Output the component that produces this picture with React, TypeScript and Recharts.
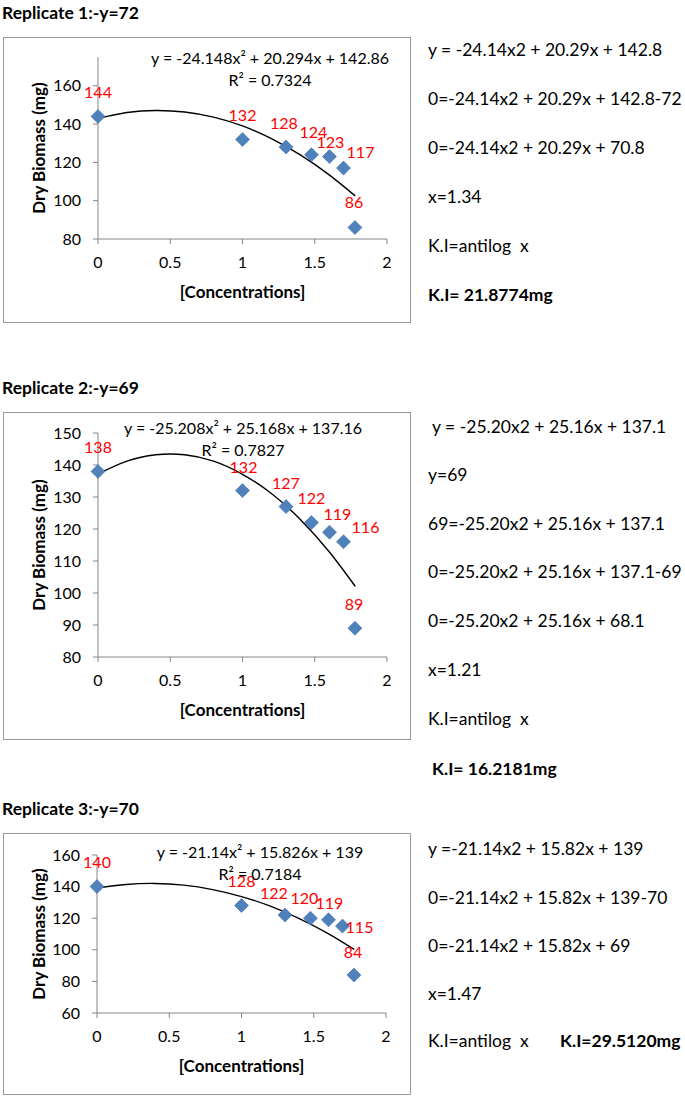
import { ComposedChart, Scatter, Line, XAxis, YAxis } from 'recharts'

// log10 of the concentrations on the x axis
const conc = [0, 1, 1.301, 1.477, 1.602, 1.699, 1.778]
const rep1 = [144, 132, 128, 124, 123, 117, 86]
const rep2 = [138, 132, 127, 122, 119, 116, 89]
const rep3 = [140, 128, 122, 120, 119, 115, 84]

// polynomial trendline
const trendX = [0, 0.2, 0.4, 0.6, 0.8, 1, 1.2, 1.4, 1.6, 1.78]
const trend1 = [142.9, 146.0, 147.1, 146.3, 143.6, 139.0, 132.4, 123.9, 113.5, 102.5]
const trend2 = [137.2, 141.2, 143.2, 143.2, 141.2, 137.1, 131.1, 123.0, 112.9, 102.1]
const trend3 = [139.0, 141.3, 142.0, 140.9, 138.1, 133.7, 127.6, 119.7, 110.2, 100.2]

const xTicks = [0, 0.5, 1, 1.5, 2]
const yTicks1 = [80, 100, 120, 140, 160]
const yTicks2 = [80, 90, 100, 110, 120, 130, 140, 150]
const yTicks3 = [60, 80, 100, 120, 140, 160]

const eq1 = ['y = -24.148x² + 20.294x + 142.86', 'R² = 0.7324']
const eq2 = ['y = -25.208x² + 25.168x + 137.16', 'R² = 0.7827']
const eq3 = ['y = -21.14x² + 15.826x + 139', 'R² = 0.7184']

const notes1 = [
  'y = -24.14x2 + 20.29x + 142.8',
  '0=-24.14x2 + 20.29x + 142.8-72',
  '0=-24.14x2 + 20.29x + 70.8',
  'x=1.34',
  'K.I=antilog  x',
]
const notes2 = [
  ' y = -25.20x2 + 25.16x + 137.1',
  'y=69',
  '69=-25.20x2 + 25.16x + 137.1',
  '0=-25.20x2 + 25.16x + 137.1-69',
  '0=-25.20x2 + 25.16x + 68.1',
  'x=1.21',
  'K.I=antilog  x',
]
const notes3 = [
  'y =-21.14x2 + 15.82x + 139',
  '0=-21.14x2 + 15.82x + 139-70',
  '0=-21.14x2 + 15.82x + 69',
  'x=1.47',
  'K.I=antilog  x',
]

const FONT = 'Lato, "Open Sans", sans-serif'
const AXIS = '#868686'

// nudges for the red value labels (dx, dy from the marker)
const shift1 = [[0, -25], [0, -25], [-2, -25], [2, -23], [1, -15], [17, -17], [-1, -26]]
const shift2 = [[0, -25], [1, -24], [0, -24], [0, -25], [8, -19], [22, -15], [-1, -25]]
const shift3 = [[0, -25], [0, -25], [-11, -23], [-6, -21], [1, -17], [17, 0], [-1, -24]]

const Diamond = (p: any) => {
  const { cx, cy } = p
  if (cx == null || cy == null) return null
  const r = 7
  return (
    <polygon
      points={`${cx},${cy - r} ${cx + r},${cy} ${cx},${cy + r} ${cx - r},${cy}`}
      fill="#4F81BD"
      stroke="#3E6DA6"
      strokeWidth={0.6}
    />
  )
}

function Panel(props: {
  values: number[]
  trend: number[]
  yTicks: number[]
  yDomain: [number, number]
  shifts: number[][]
  eq: string[]
  eqX: number
  eqY: number
  title: string
  titleY: number
  box: { left: number; top: number; w: number; h: number }
  plot: { x0: number; x1: number; y0: number; y1: number }
}) {
  const { box, plot } = props
  const pts = conc.map((x, i) => ({ x, y: props.values[i], i }))
  const line = trendX.map((x, i) => ({ x, y: props.trend[i] }))
  const xMid = (plot.x0 + plot.x1) / 2
  const yMid = (plot.y0 + plot.y1) / 2

  const ValueLabel = (p: any) => {
    const { cx, cy, payload } = p
    if (cx == null) return null
    const [dx, dy] = props.shifts[payload.i]
    return (
      <text x={cx + dx} y={cy + dy} textAnchor="middle" dominantBaseline="central"
        fill="#FF0000" fontSize={16} fontFamily={FONT}>
        {payload.y}
      </text>
    )
  }

  return (
    <>
      <div style={{ position: 'absolute', left: 2, top: props.titleY, transform: 'translateY(-50%)',
        fontWeight: 700, fontSize: 17.5, whiteSpace: 'nowrap' }}>
        {props.title}
      </div>
      <div style={{ position: 'absolute', left: box.left, top: box.top, width: box.w, height: box.h,
        border: '1px solid #9a9a9a', boxSizing: 'border-box' }} />
      <div style={{ position: 'absolute', left: box.left, top: box.top }}>
        <ComposedChart
          width={box.w}
          height={box.h}
          margin={{ top: plot.y0 - box.top, right: box.left + box.w - plot.x1, left: 0, bottom: 0 }}
        >
          <XAxis dataKey="x" type="number" domain={[0, 2]} ticks={xTicks}
            height={box.top + box.h - plot.y1} stroke={AXIS} tickSize={5} tickMargin={13}
            tick={{ fill: '#000', fontSize: 16, fontFamily: FONT }} />
          <YAxis dataKey="y" type="number" domain={props.yDomain} ticks={props.yTicks}
            width={plot.x0 - box.left} stroke={AXIS} tickSize={5} tickMargin={12}
            tick={{ fill: '#000', fontSize: 16, fontFamily: FONT }} />
          <Scatter data={pts} shape={Diamond} isAnimationActive={false} />
          <Line data={line} dataKey="y" type="natural" stroke="#000" strokeWidth={1.4}
            dot={false} activeDot={false} isAnimationActive={false} />
          <Scatter data={pts} shape={ValueLabel} isAnimationActive={false} />
        </ComposedChart>
      </div>
      <div style={{ position: 'absolute', left: 38, top: yMid, transform: 'translate(-50%, -50%) rotate(-90deg)',
        fontWeight: 700, fontSize: 17, whiteSpace: 'nowrap' }}>
        Dry Biomass (mg)
      </div>
      <div style={{ position: 'absolute', left: xMid, top: plot.y1 + 52, transform: 'translate(-50%, -50%)',
        fontWeight: 700, fontSize: 17, whiteSpace: 'nowrap' }}>
        [Concentrations]
      </div>
      {props.eq.map((t, k) => (
        <div key={k} style={{ position: 'absolute', left: props.eqX, top: props.eqY + k * 22,
          transform: 'translate(-50%, -50%)', fontSize: 16, whiteSpace: 'nowrap' }}>
          {t}
        </div>
      ))}
    </>
  )
}

function Notes({ lines, ys, x }: { lines: string[]; ys: number[]; x: number }) {
  return (
    <>
      {lines.map((t, k) => (
        <div key={k} style={{ position: 'absolute', left: x, top: ys[k], transform: 'translateY(-50%)',
          fontSize: 17.5, whiteSpace: 'pre', lineHeight: 1.2 }}>
          {t}
        </div>
      ))}
    </>
  )
}

export default function App() {
  return (
    <div style={{ position: 'absolute', left: 0, top: 0, width: 685, height: 1097, background: '#fff',
      fontFamily: FONT, color: '#000' }}>
      <Panel values={rep1} trend={trend1} yTicks={yTicks1} yDomain={[80, 175]} shifts={shift1}
        eq={eq1} eqX={270} eqY={57} title="Replicate 1:-y=72" titleY={12}
        box={{ left: 3, top: 37, w: 408, h: 286 }} plot={{ x0: 98, x1: 387, y0: 57, y1: 239 }} />
      <Panel values={rep2} trend={trend2} yTicks={yTicks2} yDomain={[80, 150]} shifts={shift2}
        eq={eq2} eqX={243} eqY={427} title="Replicate 2:-y=69" titleY={387}
        box={{ left: 3, top: 412, w: 408, h: 328 }} plot={{ x0: 98, x1: 387, y0: 433, y1: 657 }} />
      <Panel values={rep3} trend={trend3} yTicks={yTicks3} yDomain={[60, 160]} shifts={shift3}
        eq={eq3} eqX={260} eqY={851} title="Replicate 3:-y=70" titleY={808}
        box={{ left: 3, top: 833, w: 408, h: 262 }} plot={{ x0: 97, x1: 386, y0: 855, y1: 1013 }} />

      <Notes lines={notes1} ys={[49, 98, 147, 196, 245]} x={428} />
      <div style={{ position: 'absolute', left: 428, top: 294, transform: 'translateY(-50%)',
        fontSize: 17.5, fontWeight: 700, whiteSpace: 'nowrap' }}>K.I= 21.8774mg</div>

      <Notes lines={notes2} ys={[426, 474, 523, 571, 620, 669, 718]} x={428} />
      <div style={{ position: 'absolute', left: 432, top: 768, transform: 'translateY(-50%)',
        fontSize: 17.5, fontWeight: 700, whiteSpace: 'nowrap' }}>K.I= 16.2181mg</div>

      <Notes lines={notes3} ys={[848, 897, 945, 993, 1040]} x={428} />
      <div style={{ position: 'absolute', left: 560, top: 1040, transform: 'translateY(-50%)',
        fontSize: 17.5, fontWeight: 700, whiteSpace: 'nowrap' }}>K.I=29.5120mg</div>
    </div>
  )
}
